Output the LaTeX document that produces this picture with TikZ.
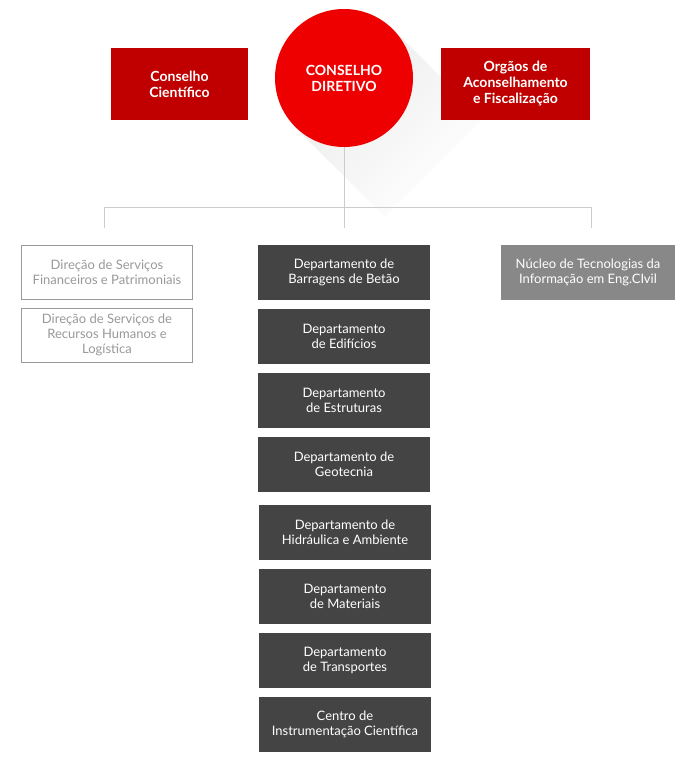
\documentclass[tikz,border=0pt]{standalone}
\usepackage{fontspec}
\setmainfont{Lato}
\definecolor{redbox}{HTML}{C00000}
\definecolor{redcirc}{HTML}{EE0000}
\definecolor{darkbox}{HTML}{444444}
\definecolor{greybox}{HTML}{888888}
\definecolor{greytext}{HTML}{999999}
\definecolor{linkline}{HTML}{CCCCCC}
\begin{document}
\begin{tikzpicture}[x=1pt,y=-1pt,
    box/.style={rectangle,inner sep=0pt,align=center,
      font=\fontsize{13}{15}\selectfont},
    council/.style={box,fill=redbox,text=white,minimum width=137pt,
      minimum height=72pt,font=\fontsize{14}{16}\selectfont\bfseries},
    direction/.style={box,draw=greytext,fill=white,text=greytext,
      minimum width=171pt,minimum height=54pt},
    dept/.style={box,fill=darkbox,text=white,minimum width=172pt,
      minimum height=55pt},
    nucleus/.style={box,fill=greybox,text=white,minimum width=174pt,
      minimum height=55pt},
    link/.style={draw=linkline,line width=1pt}]

        \useasboundingbox (0,0) rectangle (687,764);

        % long shadow of the circle
        \shade[left color=black!8,right color=white,shading angle=45]
          (393,29) -- (295,127) -- (385,217) -- (483,119) -- cycle;

        \node[council] (cc) at (179.5,84) {Conselho\\Científico};
        \node[council,minimum width=149pt] (oa) at (515.5,84)
          {Orgãos de\\Aconselhamento\\e Fiscalização};
        \node[circle,fill=redcirc,text=white,minimum size=138pt,inner sep=0pt,
          align=center,font=\fontsize{14}{16}\selectfont\bfseries]
          (cd) at (344,78) {\\[-4pt]CONSELHO\\DIRETIVO};

        \coordinate (jl) at (104,207);
        \coordinate (jr) at (591,207);
        \coordinate (el) at (104,228);
        \coordinate (em) at (344,228);
        \coordinate (er) at (591,228);

        \path[link] (cd.south) -- (em);
        \path[link] (el) -- (jl) -- (jr) -- (er);

        \begin{scope}[every node/.style={direction}]
          \node (dsf) at (107,272) {Direção de Serviços\\Financeiros e Patrimoniais};
          \node (dsr) at (107,335) {Direção de Serviços de\\Recursos Humanos e\\Logística};
        \end{scope}

        \begin{scope}[every node/.style={dept}]
          \node (dbb) at (344,272.5) {Departamento de\\Barragens de Betão};
          \node (ded) at (344,336.5) {Departamento\\de Edifícios};
          \node (des) at (344,400.5) {Departamento\\de Estruturas};
          \node (dge) at (344,464.5) {Departamento de\\Geotecnia};
          \node (dha) at (345,532.5) {Departamento de\\Hidráulica e Ambiente};
          \node (dma) at (345,596.5) {Departamento\\de Materiais};
          \node (dtr) at (345,660.5) {Departamento\\de Transportes};
          \node (cic) at (345,724.5) {Centro de\\Instrumentação Científica};
        \end{scope}

        \node[nucleus] (nti) at (588,272.5) {Núcleo de Tecnologias da\\Informação em Eng.CIvil};

      \end{tikzpicture}
\end{document}
